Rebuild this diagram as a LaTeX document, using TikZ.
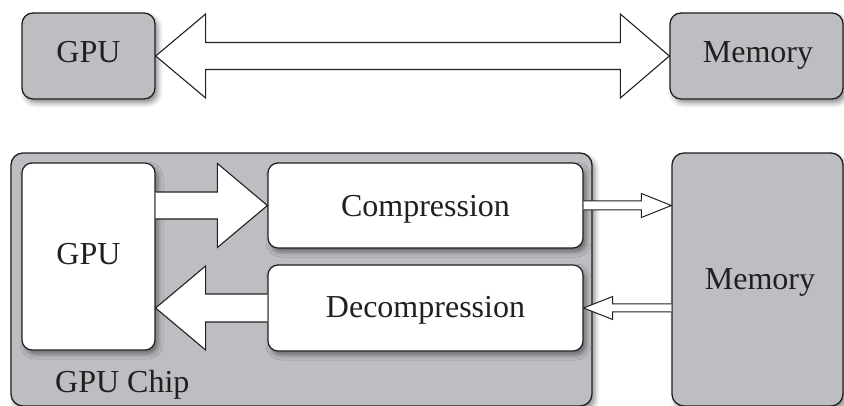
\documentclass[tikz,border=0pt]{standalone}
\usepackage{fontspec}
\setmainfont{Liberation Serif}
\usetikzlibrary{calc,shadows.blur}
\definecolor{boxgray}{HTML}{BDBEC2}
\definecolor{ink}{HTML}{231F20}
\begin{document}
\begin{tikzpicture}[x=1pt,y=-1pt,
  shad/.style={blur shadow={shadow xshift=3pt,shadow yshift=-4pt,shadow blur radius=5pt,shadow opacity=45}},
  graybox/.style={draw=ink,line width=1.3pt,fill=boxgray,rounded corners=11pt,inner sep=0pt,shad},
  whitebox/.style={draw=ink,line width=1.2pt,fill=white,rounded corners=10pt,inner sep=0pt,shad},
  txt/.style={font=\fontsize{32}{38}\selectfont,text=ink,inner sep=0pt,anchor=base},
  blockarrow/.style={draw=ink,line width=1.1pt,fill=white,line join=miter}]
\useasboundingbox (0,0) rectangle (844,406);
\clip (0,0) rectangle (844,406);
% top row
\node[graybox,minimum width=133pt,minimum height=86pt] (gpu) at (88.5,56) {};
\node[graybox,minimum width=173pt,minimum height=86pt] (mem) at (756.5,56) {};
\node[txt] (gputxt) at (88.5,63) {GPU};
\node[txt] (memtxt) at (758,63) {Memory};
\draw[blockarrow] (gpu.east) -- ($(gpu.east)+(50,-42)$) -- ($(gpu.east)+(50,-13.5)$)
  -- ($(mem.west)+(-49,-13.5)$) -- ($(mem.west)+(-49,-42)$) -- (mem.west)
  -- ($(mem.west)+(-49,42)$) -- ($(mem.west)+(-49,13.5)$)
  -- ($(gpu.east)+(50,13.5)$) -- ($(gpu.east)+(50,42)$) -- cycle;
% bottom row
\node[graybox,rounded corners=12pt,minimum width=581pt,minimum height=253pt] (chip) at (301.5,279.5) {};
\node[graybox,rounded corners=12pt,minimum width=171pt,minimum height=253pt] (bmem) at (757.5,279.5) {};
\node[whitebox,minimum width=133pt,minimum height=187pt] (igpu) at (88.5,256.5) {};
\node[whitebox,minimum width=315pt,minimum height=85pt] (comp) at (425.5,205.5) {};
\node[whitebox,minimum width=315pt,minimum height=86pt] (decomp) at (425.5,308) {};
\node[txt] (igputxt) at (88.5,265) {GPU};
\node[txt] (comptxt) at (425.5,217) {Compression};
\node[txt] (decomptxt) at (425.5,317) {Decompression};
\node[txt,anchor=base west] (chiptxt) at (55,392) {GPU Chip};
\node[txt] (bmemtxt) at (760,290) {Memory};
% GPU -> Compression
\draw[blockarrow] ($(igpu.east |- comp.west)+(0,-13.5)$) -- ($(comp.west)+(-50,-13.5)$)
  -- ($(comp.west)+(-50,-42)$) -- (comp.west) -- ($(comp.west)+(-50,42)$)
  -- ($(comp.west)+(-50,13.5)$) -- ($(igpu.east |- comp.west)+(0,13.5)$);
% Decompression -> GPU
\coordinate (dtip) at (igpu.east |- decomp.west);
\draw[blockarrow] ($(decomp.west)+(0,-14)$) -- ($(dtip)+(50,-14)$)
  -- ($(dtip)+(50,-42)$) -- (dtip) -- ($(dtip)+(50,42)$)
  -- ($(dtip)+(50,14)$) -- ($(decomp.west)+(0,14)$);
% Compression -> Memory
\coordinate (ctip) at (bmem.west |- comp.east);
\draw[blockarrow,line width=1pt] ($(comp.east)+(0,-4.5)$) -- ($(ctip)+(-30,-4.5)$)
  -- ($(ctip)+(-30,-12)$) -- (ctip) -- ($(ctip)+(-30,12)$)
  -- ($(ctip)+(-30,4.5)$) -- ($(comp.east)+(0,4.5)$);
% Memory -> Decompression
\coordinate (mstart) at (bmem.west |- decomp.east);
\draw[blockarrow,line width=1pt] ($(mstart)+(0,-4)$) -- ($(decomp.east)+(29,-4)$)
  -- ($(decomp.east)+(29,-11.5)$) -- (decomp.east) -- ($(decomp.east)+(29,11.5)$)
  -- ($(decomp.east)+(29,4)$) -- ($(mstart)+(0,4)$);
\end{tikzpicture}
\end{document}
